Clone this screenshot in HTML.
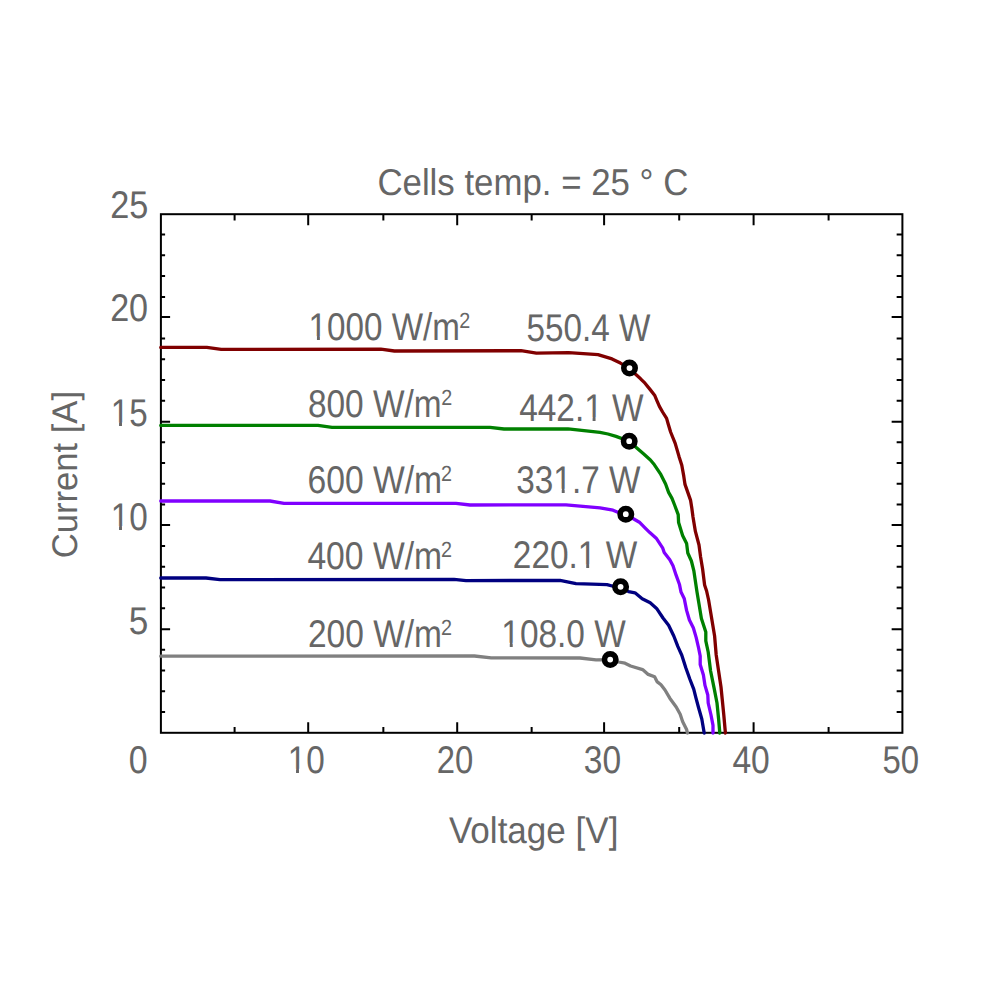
<!DOCTYPE html>
<html><head><meta charset="utf-8"><title>I-V curves</title><style>
html,body{margin:0;padding:0;background:#fff;}
svg{display:block;}
text{font-family:"Liberation Sans",sans-serif;fill:#666666;text-rendering:geometricPrecision;}
</style></head><body>
<svg width="1000" height="1000" viewBox="0 0 1000 1000">
<rect x="160.9" y="214.2" width="741.50" height="518.60" fill="none" stroke="#000" stroke-width="2"/>
<path d="M234.60,732.80v-5.9M234.60,214.20v6.2M308.20,732.80v-10.6M308.20,214.20v11M383.35,732.80v-5.9M383.35,214.20v6.2M457.20,732.80v-10.6M457.20,214.20v11M531.65,732.80v-5.9M531.65,214.20v6.2M604.10,732.80v-10.6M604.10,214.20v11M679.20,732.80v-5.9M679.20,214.20v6.2M753.60,732.80v-10.6M753.60,214.20v11M828.60,732.80v-5.9M828.60,214.20v6.2M160.90,712.04h4.2M902.40,712.04h-5.75M160.90,691.28h4.2M902.40,691.28h-5.75M160.90,670.53h4.2M902.40,670.53h-5.75M160.90,649.77h4.2M902.40,649.77h-5.75M160.90,629.20h9.2M902.40,629.20h-10.75M160.90,608.25h4.2M902.40,608.25h-5.75M160.90,587.49h4.2M902.40,587.49h-5.75M160.90,566.74h4.2M902.40,566.74h-5.75M160.90,545.98h4.2M902.40,545.98h-5.75M160.90,525.00h9.2M902.40,525.00h-10.75M160.90,504.46h4.2M902.40,504.46h-5.75M160.90,483.70h4.2M902.40,483.70h-5.75M160.90,462.95h4.2M902.40,462.95h-5.75M160.90,442.19h4.2M902.40,442.19h-5.75M160.90,421.75h9.2M902.40,421.75h-10.75M160.90,400.67h4.2M902.40,400.67h-5.75M160.90,379.91h4.2M902.40,379.91h-5.75M160.90,359.16h4.2M902.40,359.16h-5.75M160.90,338.40h4.2M902.40,338.40h-5.75M160.90,317.00h9.2M902.40,317.00h-10.75M160.90,296.88h4.2M902.40,296.88h-5.75M160.90,276.12h4.2M902.40,276.12h-5.75M160.90,255.37h4.2M902.40,255.37h-5.75M160.90,234.61h4.2M902.40,234.61h-5.75" stroke="#000" stroke-width="2" fill="none"/>
<path d="M160.75,347.40 L206.80,347.40 L221.20,349.30 L380.80,349.20 L394.40,351.00 L521.00,350.70 L536.40,353.10 L568.60,352.60 L598.00,354.70 L612.00,358.90 L620.40,363.10 L629.50,368.10 L636.20,374.80 L640.60,378.80 L645.00,383.20 L650.20,389.60 L654.60,395.20 L657.00,400.80 L659.40,406.40 L662.60,412.00 L666.60,418.40 L668.20,424.00 L670.60,432.00 L675.20,443.40 L679.00,456.40 L681.80,465.20 L683.80,476.40 L685.00,484.40 L687.80,492.40 L690.60,500.40 L691.80,508.00 L693.00,517.00 L695.40,531.40 L699.00,545.00 L700.60,557.00 L702.60,569.00 L704.60,585.00 L706.60,591.00 L708.60,600.00 L710.60,612.00 L712.60,624.00 L714.60,636.00 L716.20,655.00 L718.60,671.00 L721.00,687.00 L722.20,699.00 L723.80,715.00 L725.40,733.00" stroke="#800000" stroke-width="3.3" fill="none" stroke-linejoin="round" stroke-linecap="round"/><path d="M160.75,425.40 L318.00,425.40 L332.00,427.40 L490.00,427.40 L504.00,429.00 L568.00,428.80 L600.00,432.40 L608.00,434.00 L616.00,436.40 L629.20,441.20 L636.80,448.00 L643.20,453.60 L650.40,460.00 L654.40,464.80 L660.80,474.40 L665.60,484.00 L668.60,492.40 L672.00,498.40 L674.60,505.00 L678.20,514.60 L678.60,522.60 L682.60,535.40 L686.60,543.40 L687.80,553.00 L691.40,561.00 L693.80,570.60 L695.80,584.00 L697.00,592.00 L699.00,604.00 L701.40,618.40 L705.80,632.00 L705.80,640.80 L708.20,652.00 L710.60,671.00 L714.20,688.60 L717.00,703.00 L718.60,719.00 L719.80,733.00" stroke="#008000" stroke-width="3.3" fill="none" stroke-linejoin="round" stroke-linecap="round"/><path d="M160.75,501.00 L270.00,501.00 L284.00,503.40 L456.00,503.40 L470.00,505.00 L566.00,504.80 L600.00,507.80 L613.00,510.20 L617.80,512.20 L625.80,514.20 L633.80,519.00 L639.40,522.20 L645.00,527.80 L649.80,532.60 L656.20,538.20 L662.60,547.80 L664.20,552.60 L669.80,559.80 L673.00,565.80 L676.20,575.40 L679.40,584.20 L681.00,592.00 L684.20,598.40 L686.60,610.40 L689.40,620.00 L693.40,628.00 L696.20,637.60 L698.60,648.00 L700.20,656.00 L700.20,664.60 L703.40,675.00 L705.00,685.40 L707.80,695.00 L708.20,703.00 L711.00,715.00 L713.00,725.40 L713.00,733.00" stroke="#8000ff" stroke-width="3.3" fill="none" stroke-linejoin="round" stroke-linecap="round"/><path d="M160.75,578.00 L206.00,578.00 L220.00,579.60 L454.00,579.40 L466.00,580.60 L560.00,580.40 L576.00,583.60 L592.00,584.20 L607.00,584.60 L612.20,586.00 L620.60,586.80 L628.60,591.60 L635.00,592.80 L642.20,598.80 L650.20,602.80 L656.60,608.40 L663.00,618.00 L668.60,625.20 L673.80,636.00 L677.80,646.40 L681.80,655.20 L685.80,667.80 L689.80,679.00 L693.80,689.40 L695.80,697.40 L698.60,707.80 L701.80,719.00 L704.20,733.00" stroke="#000080" stroke-width="3.3" fill="none" stroke-linejoin="round" stroke-linecap="round"/><path d="M160.75,656.20 L474.40,656.00 L491.20,657.80 L580.00,658.00 L596.00,659.80 L610.20,659.60 L618.60,662.00 L625.00,663.20 L630.60,666.00 L642.60,669.60 L648.20,674.40 L654.60,676.80 L657.00,681.60 L661.00,684.80 L665.00,690.00 L669.80,698.20 L676.20,707.00 L680.20,714.20 L682.60,721.40 L686.60,729.40 L687.40,733.00" stroke="#808080" stroke-width="3.3" fill="none" stroke-linejoin="round" stroke-linecap="round"/>
<circle cx="629.5" cy="368.1" r="5.7" stroke="#000" stroke-width="5.6" fill="#fff"/><circle cx="629.2" cy="441.2" r="5.7" stroke="#000" stroke-width="5.6" fill="#fff"/><circle cx="625.8" cy="514.2" r="5.7" stroke="#000" stroke-width="5.6" fill="#fff"/><circle cx="620.6" cy="586.8" r="5.7" stroke="#000" stroke-width="5.6" fill="#fff"/><circle cx="610.2" cy="659.6" r="5.7" stroke="#000" stroke-width="5.6" fill="#fff"/>
<g transform="translate(110.13059285091543,218.2931525054466) scale(0.8902879250217959,1)"><text font-size="38.559">25</text></g>
<g transform="translate(110.13950642976953,321.2768126361656) scale(0.885536093682052,1)"><text font-size="38.559">20</text></g>
<g transform="translate(110.68252553745494,426.4348235294118) scale(0.8618048304179461,1)"><text font-size="38.559">15</text><path d="M0.94,-3.88H9.70V1H0.94ZM13.10,-3.88H21.56V1H13.10Z" fill="#fff"/></g>
<g transform="translate(110.65363911836627,529.7768126361656) scale(0.8636266555416028,1)"><text font-size="38.559">10</text><path d="M0.94,-3.88H9.70V1H0.94ZM13.10,-3.88H21.56V1H13.10Z" fill="#fff"/></g>
<g transform="translate(128.7375406675308,634.1195729847495) scale(0.9130232858068702,1)"><text font-size="38.559">5</text></g>
<g transform="translate(128.85496488764045,772.5268126361656) scale(0.8795658105938998,1)"><text font-size="38.559">0</text></g>
<g transform="translate(287.6536391183663,772.5268126361656) scale(0.8636266555416028,1)"><text font-size="38.559">10</text><path d="M0.94,-3.88H9.70V1H0.94ZM13.10,-3.88H21.56V1H13.10Z" fill="#fff"/></g>
<g transform="translate(436.64187676285115,772.5279019607843) scale(0.8518954041658707,1)"><text font-size="38.559">20</text></g>
<g transform="translate(583.788983074466,773.0322592592593) scale(0.8696867069581007,1)"><text font-size="38.559">30</text></g>
<g transform="translate(732.3753872641798,773.0159193899783) scale(0.8720775810489039,1)"><text font-size="38.559">40</text></g>
<g transform="translate(882.3891447089777,773.2779019607843) scale(0.8546595905794773,1)"><text font-size="38.559">50</text></g>
<g transform="translate(308.582623219515,340.22681263616556) scale(0.8617690031365672,1)"><text font-size="38.559">1000 W/m</text><path d="M0.94,-3.88H9.70V1H0.94ZM13.10,-3.88H21.56V1H13.10Z" fill="#fff"/></g>
<g transform="translate(307.90904592220204,416.6322592592593) scale(0.8673529956741769,1)"><text font-size="38.559">800 W/m</text></g>
<g transform="translate(307.4821793880463,492.95883877995647) scale(0.8727115836458368,1)"><text font-size="38.559">600 W/m</text></g>
<g transform="translate(307.3753543859649,568.9159193899782) scale(0.8734133728687917,1)"><text font-size="38.559">400 W/m</text></g>
<g transform="translate(307.9037749420031,646.7806252723311) scale(0.8695788974748401,1)"><text font-size="38.559">200 W/m</text></g>
<g transform="translate(526.4684016975805,340.7483137254902) scale(0.8629662592473463,1)"><text font-size="38.559">550.4 W</text></g>
<g transform="translate(519.159916980068,421.3483137254902) scale(0.8667380568528278,1)"><text font-size="38.559">442.1 W</text><path d="M75.97,-3.88H84.73V1H75.97ZM88.14,-3.88H96.60V1H88.14Z" fill="#fff"/></g>
<g transform="translate(516.3212788184721,492.7483137254902) scale(0.8638235413730975,1)"><text font-size="38.559">331.7 W</text><path d="M43.82,-3.88H52.58V1H43.82ZM55.98,-3.88H64.44V1H55.98Z" fill="#fff"/></g>
<g transform="translate(512.8158362763711,568.3483137254902) scale(0.866389274117709,1)"><text font-size="38.559">220.1 W</text><path d="M75.97,-3.88H84.73V1H75.97ZM88.14,-3.88H96.60V1H88.14Z" fill="#fff"/></g>
<g transform="translate(501.3674181897019,646.7483137254903) scale(0.8659179707317071,1)"><text font-size="38.559">108.0 W</text><path d="M0.94,-3.88H9.70V1H0.94ZM13.10,-3.88H21.56V1H13.10Z" fill="#fff"/></g>
<g transform="translate(377.3801239285841,194.69220915032682) scale(0.9332901031563288,1)"><text font-size="37.311">Cells temp. = 25 &#176; C</text></g>
<g transform="translate(448.93224248018674,843.0343137254902) scale(0.9456157807287062,1)"><text font-size="37.065">Voltage [V]</text></g>
<g transform="translate(77.2,558.258) rotate(-90) scale(0.9727,1)"><text font-size="35.6">Current [A]</text></g>
<text transform="translate(459.256,327.8) scale(0.9016,1)" font-size="21.912">2</text>
<text transform="translate(441.156,404.6) scale(0.9016,1)" font-size="21.912">2</text>
<text transform="translate(441.006,481.15) scale(0.9016,1)" font-size="21.912">2</text>
<text transform="translate(441.006,557.15) scale(0.9016,1)" font-size="21.912">2</text>
<text transform="translate(441.006,634.65) scale(0.9016,1)" font-size="21.912">2</text>
</svg>
</body></html>
